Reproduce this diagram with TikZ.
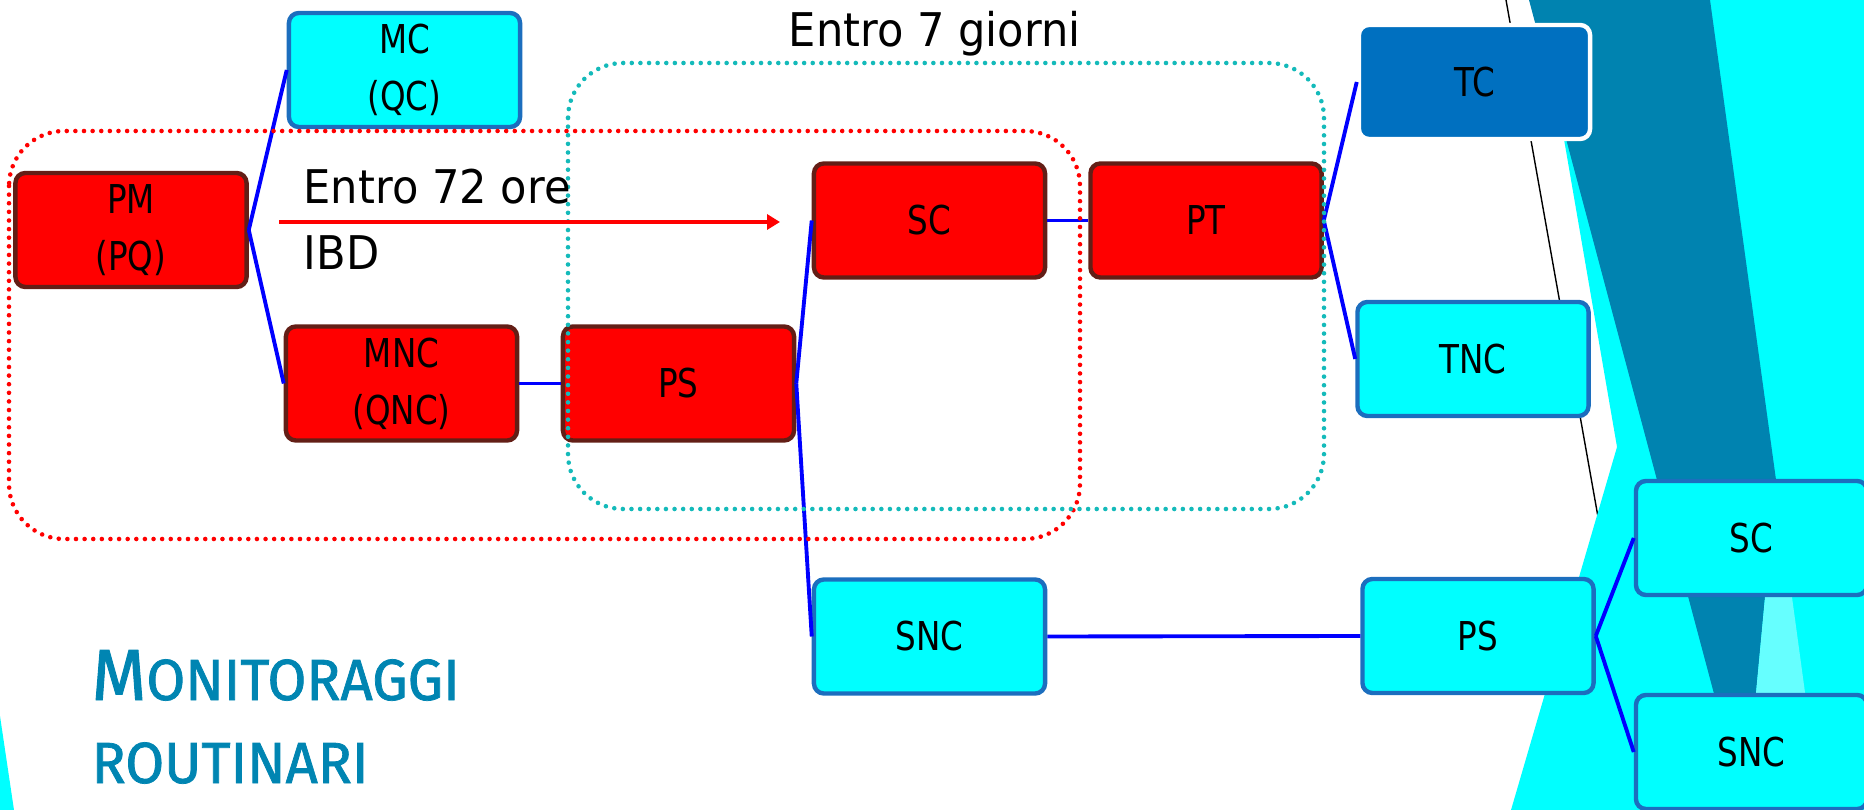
\documentclass[tikz,border=0pt]{standalone}
\usepackage{fontspec}
\usetikzlibrary{arrows.meta}

\newfontfamily\boxfont[FakeStretch=0.82]{DejaVu Sans}
\newfontfamily\labelfont[FakeStretch=0.93]{DejaVu Sans}
\newfontfamily\titlefont[FakeStretch=0.97, FakeBold=1.3]{Fira Sans}

\definecolor{aqua}{RGB}{0,255,255}
\definecolor{boxbrown}{RGB}{99,30,22}
\definecolor{boxblue}{RGB}{28,110,190}
\definecolor{tcblue}{RGB}{0,112,192}
\definecolor{deepteal}{RGB}{0,131,176}
\definecolor{paleaqua}{RGB}{102,255,255}
\definecolor{dotcyan}{RGB}{20,186,186}
\definecolor{titleblue}{RGB}{0,133,178}

\begin{document}
\begin{tikzpicture}[x=0.01cm, y=-0.01cm,
  redbox/.style={draw=boxbrown, fill=red, line width=1.25pt, rounded corners=0.1cm,
    minimum width=2.31cm, minimum height=1.14cm, inner sep=0pt, align=center,
    font=\boxfont\fontsize{11.3}{16.2}\selectfont},
  cyanbox/.style={redbox, draw=boxblue, fill=aqua},
  darkbox/.style={redbox, draw=white, fill=tcblue},
  link/.style={blue, line width=1.1pt},
  reddots/.style={red, line width=1.3pt, line cap=round,
    dash pattern=on 0pt off 2.45pt, rounded corners=0.55cm},
  cyandots/.style={reddots, dotcyan},
  lbl/.style={anchor=base west, inner sep=0pt,
    font=\labelfont\fontsize{13.2}{16}\selectfont},
  titlelbl/.style={anchor=base west, inner sep=0pt, text=titleblue,
    font=\titlefont\fontsize{16.5}{20}\selectfont}]
\useasboundingbox (0,0) rectangle (1864,810);
\clip (0,0) rectangle (1864,810);

% Background of the slide
\draw[black, line width=0.4pt] (1506,0) -- (1598,517);
\fill[aqua] (1540,0) -- (1864,0) -- (1864,810) -- (1511,810) -- (1617,447) -- cycle;
\fill[deepteal] (1529,0) -- (1710,0) -- (1776,480) -- (1745,810) -- cycle;
\fill[paleaqua] (1776,480) -- (1821,810) -- (1745,810) -- cycle;
\fill[aqua] (0,716) -- (14,810) -- (0,810) -- cycle;

% Boxes
\node[redbox] (pm) at (131,230) {PM\\(PQ)};
\node[cyanbox] (mc) at (404.5,70) {MC\\(QC)};
\node[redbox] (mnc) at (401.5,383.5) {MNC\\(QNC)};
\node[redbox] (psr) at (678.5,383.5) {PS};
\node[redbox] (scr) at (929.5,220.5) {SC};
\node[redbox] (pt) at (1206,220.5) {PT};
\node[darkbox] (tc) at (1474.5,82) {TC};
\node[cyanbox] (tnc) at (1473,359) {TNC};
\node[cyanbox] (sncm) at (929.5,636.5) {SNC};
\node[cyanbox] (psc) at (1478,636) {PS};
\node[cyanbox] (scc) at (1751.5,538) {SC};
\node[cyanbox] (sncc) at (1751.5,752) {SNC};

% Links
\draw[link] (pm.east) -- (mc.west);
\draw[link] (pm.east) -- (mnc.west);
\draw[link] (mnc.east) -- (psr.west);
\draw[link] (psr.east) -- (scr.west);
\draw[link] (psr.east) -- (sncm.west);
\draw[link] (scr.east) -- (pt.west);
\draw[link] (pt.east) -- (tc.west);
\draw[link] (pt.east) -- (tnc.west);
\draw[link] (sncm.east) -- (psc.west);
\draw[link] (psc.east) -- (scc.west);
\draw[link] (psc.east) -- (sncc.west);

% Time windows
\draw[reddots] (9,131) rectangle (1080,539);
\draw[cyandots] (568,63) rectangle (1324,509);

% Arrow and labels
\coordinate (arrS) at (279,222);
\coordinate (arrE) at (780,222);
\draw[red, line width=1pt, -{Triangle[length=0.13cm, width=0.15cm]}] (arrS) -- (arrE);
\node[lbl] (ore) at (303,204) {Entro 72 ore};
\node[lbl] (ibd) at (303,270) {IBD};
\node[lbl] (giorni) at (788,47) {Entro 7 giorni};

% Title
\node[titlelbl] (tit1) at (91,700) {{\fontsize{20.6}{24}\selectfont M}ONITORAGGI};
\node[titlelbl] (tit2) at (91,783) {ROUTINARI};
\end{tikzpicture}
\end{document}
